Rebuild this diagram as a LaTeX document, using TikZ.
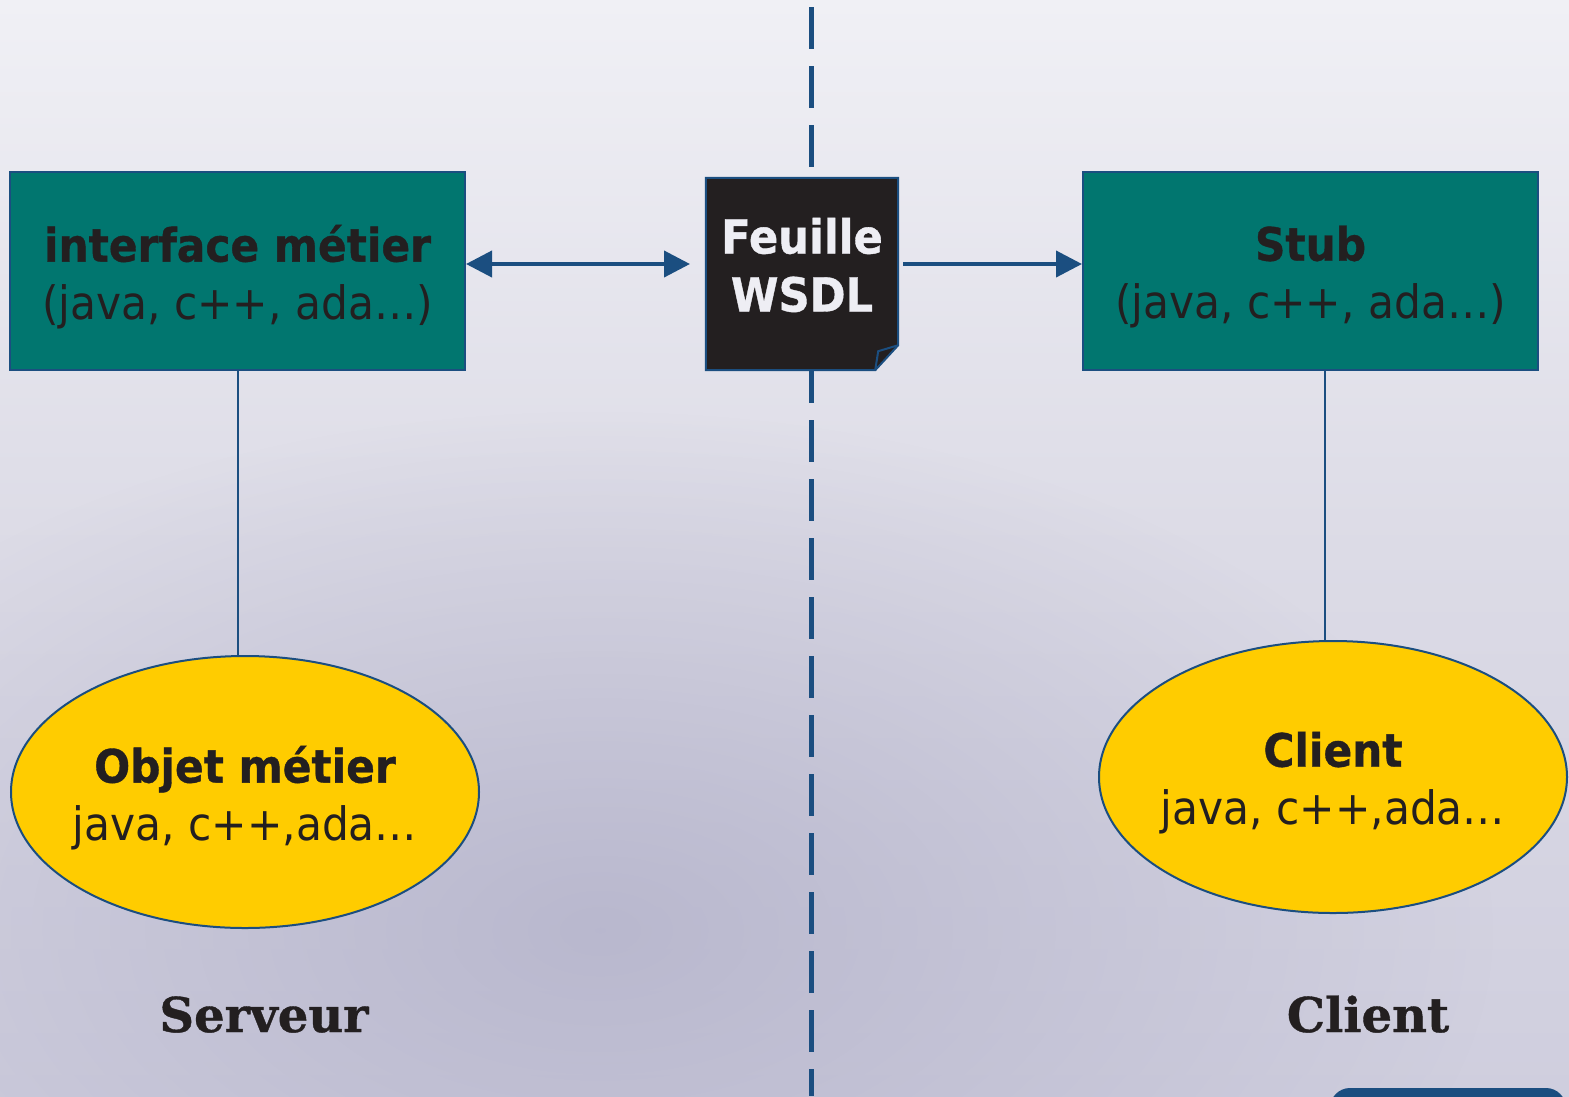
\documentclass[tikz,border=0pt]{standalone}
\usepackage{fontspec}
\setmainfont{DejaVu Sans}[FakeStretch=0.92, BoldFeatures={FakeBold=0.8}]
\newfontfamily\slabfont{DejaVu Serif}[BoldFeatures={FakeBold=0.8}]
\usetikzlibrary{arrows.meta,shapes.geometric,fadings}
\tikzfading[name=softblob, inner color=transparent!0, outer color=transparent!100]
\definecolor{tealbox}{HTML}{01766F}
\definecolor{edgeblue}{HTML}{1B4E80}
\definecolor{sun}{HTML}{FFCC00}
\definecolor{ink}{HTML}{231F20}
\definecolor{paper}{HTML}{EEEEF4}
\definecolor{bgtop}{HTML}{F0F0F5}
\definecolor{bgmid}{HTML}{DCDBE6}
\definecolor{bgbot}{HTML}{CFCEDE}
\definecolor{bgdark}{HTML}{B6B5CC}
\tikzset{
  mainfont/.style={font=\fontsize{46}{58}\selectfont},
  tealrect/.style={rectangle, fill=tealbox, draw=edgeblue, line width=2pt, minimum width=455pt, minimum height=198pt, inner sep=0pt},
  yellowell/.style={ellipse, fill=sun, draw=edgeblue, line width=2pt, minimum width=468pt, minimum height=272pt, inner sep=0pt},
  boxtext/.style={mainfont, text=ink, align=center, inner sep=0pt},
  sidetext/.style={font=\slabfont\bfseries\fontsize{48}{56}\selectfont, text=ink, inner sep=0pt, anchor=base},
  link/.style={draw=edgeblue, line width=2pt},
  flow/.style={draw=edgeblue, line width=4pt, -{Triangle[length=26pt,width=26pt]}},
  biflow/.style={draw=edgeblue, line width=4pt, {Triangle[length=26pt,width=26pt]}-{Triangle[length=26pt,width=26pt]}},
}
\begin{document}
\begin{tikzpicture}[x=1pt,y=-1pt]
\useasboundingbox (0,0) rectangle (1569,1096);
\clip (0,0) rectangle (1569,1096);
% background
\shade[top color=bgtop, bottom color=bgbot, middle color=bgmid] (0,0) rectangle (1569,1096);
\fill[bgdark, opacity=0.9, path fading=softblob] (600,930) ellipse [x radius=900pt, y radius=520pt];
% divider
\coordinate (divtop) at (811.5,0);
\coordinate (divbot) at (811.5,1096);
\draw[edgeblue, line width=5pt, dash pattern=on 42pt off 17pt, dash phase=52pt] (divtop) -- (divbot);
% boxes
\node[tealrect] (iface) at (237.5,271) {};
\node[tealrect] (stub) at (1310.5,271) {};
\node[boxtext] (ifacet) at (237.5,277) {\textbf{interface métier}\\(java, c++, ada…)};
\node[boxtext] (stubt) at (1310.5,277) {\textbf{Stub}\\(java, c++, ada…)};
% WSDL sheet
\node[rectangle, minimum width=192pt, minimum height=192pt, inner sep=0pt] (wsdl) at (802,274) {};
\fill[ink] (wsdl.north west) -- (wsdl.north east) -- ([yshift=25pt]wsdl.south east) -- ([xshift=-23pt]wsdl.south east) -- (wsdl.south west) -- cycle;
\draw[edgeblue, line width=2pt, line join=miter] (wsdl.north west) -- (wsdl.north east) -- ([yshift=25pt]wsdl.south east) -- ([xshift=-23pt]wsdl.south east) -- (wsdl.south west) -- cycle;
\draw[edgeblue, line width=2pt, line join=miter] ([xshift=-23pt]wsdl.south east) -- ([xshift=-20pt,yshift=19pt]wsdl.south east) -- ([yshift=25pt]wsdl.south east);
\node[boxtext, text=paper, font=\bfseries\fontsize{47}{58}\selectfont] (wsdlt) at (802,265) {Feuille\\WSDL};
% ellipses
\node[yellowell] (obj) at (245,792) {};
\node[yellowell] (cli) at (1333,777) {};
\node[boxtext] (objt) at (245,798) {\textbf{Objet métier}\\java, c++,ada…};
\node[boxtext] (clit) at (1333,783) {\textbf{Client}\\java, c++,ada…};
% connectors
\coordinate (arrL) at (690,264);
\coordinate (arrR) at (903,264);
\draw[biflow] (iface.east |- arrL) -- (arrL);
\draw[flow] (arrR) -- (stub.west |- arrR);
\draw[link] (iface.south) -- (iface.south |- obj.north);
\draw[link] ([xshift=14.5pt]stub.south) -- ([xshift=14.5pt]stub.south |- cli.north);
% side labels
\node[sidetext] (serveur) at (264,1032) {Serveur};
\node[sidetext] (client) at (1368,1032) {Client};
% bottom-right tab
\fill[edgeblue, rounded corners=20pt] (1330,1088) rectangle (1566,1140);
\end{tikzpicture}
\end{document}
